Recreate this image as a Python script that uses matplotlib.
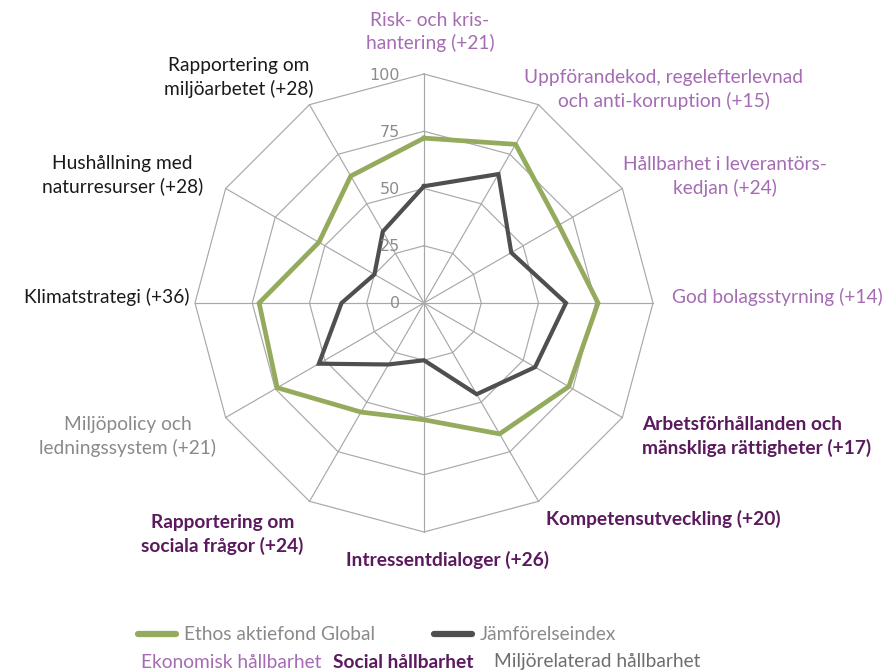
import numpy as np
import matplotlib
matplotlib.use("Agg")
import matplotlib.pyplot as plt
from matplotlib.lines import Line2D

plt.rcParams['font.family'] = ['Lato', 'DejaVu Sans']

# ---------------------------------------------------------------
# data (clockwise from the top)
categories = [
    "Risk- och kris-\nhantering (+21)",
    "Uppförandekod, regelefterlevnad\noch anti-korruption (+15)",
    "Hållbarhet i leverantörs-\nkedjan (+24)",
    "God bolagsstyrning (+14)",
    "Arbetsförhållanden och\nmänskliga rättigheter (+17)",
    "Kompetensutveckling (+20)",
    "Intressentdialoger (+26)",
    "Rapportering om\nsociala frågor (+24)",
    "Miljöpolicy och\nledningssystem (+21)",
    "Klimatstrategi (+36)",
    "Hushållning med\nnaturresurser (+28)",
    "Rapportering om\nmiljöarbetet (+28)",
]
ethos = [72, 80, 68, 76, 73, 66, 51, 55, 74, 72, 53, 64]
index = [51, 65, 44, 62, 56, 46, 25, 31, 53, 36, 25, 36]
series_names = ["Ethos aktiefond Global", "Jämförelseindex"]
ticks = [0, 25, 50, 75, 100]

LIGHT = '#a56cb4'
DARK = '#5b1a5e'
GREEN = '#94ab5e'
GRAY = '#4f4f4f'
GRID = '#a8a8a8'
FS = 13.8

# label styling: colour, bold, offset in pixels, alignment
label_style = [
    (LIGHT, False, (6, 42), 'center'),
    (LIGHT, False, (125, 15), 'center'),
    (LIGHT, False, (103, 12), 'center'),
    (LIGHT, False, (19, 6), 'left'),
    (DARK, True, (20, -19), 'left'),
    (DARK, True, (8, -18), 'left'),
    (DARK, True, (23, -28), 'center'),
    (DARK, True, (-87, -33), 'center'),
    ('#8a8a8a', False, (-98, -19), 'center'),
    ('#1a1a1a', False, (-5, 6), 'right'),
    ('#1a1a1a', False, (-103, 13), 'center'),
    ('#1a1a1a', False, (-71, 27), 'center'),
]

# ---------------------------------------------------------------
W, H = 887, 672
fig = plt.figure(figsize=(W / 100, H / 100), dpi=100)
cx, cy, R = 424, 303, 229
ax = fig.add_axes([(cx - R) / W, (H - cy - R) / H, 2 * R / W, 2 * R / H],
                  projection='polar')
ax.set_theta_zero_location('N')
ax.set_theta_direction(-1)
ax.set_ylim(0, 100)
ax.grid(False)
ax.set_xticks([])
ax.set_yticks([])
ax.spines['polar'].set_visible(False)
ax.patch.set_visible(False)

n = len(categories)
theta = np.arange(n) * 2 * np.pi / n
closed = np.append(theta, theta[0])

# polygon grid
for v in ticks[1:]:
    ax.plot(closed, [v] * (n + 1), color=GRID, lw=0.85, clip_on=False, zorder=1)
for t in theta:
    ax.plot([t, t], [0, 100], color=GRID, lw=0.85, clip_on=False, zorder=1)

# series
ax.plot(closed, ethos + ethos[:1], color=GREEN, lw=3.4, clip_on=False,
        zorder=3, solid_joinstyle='miter')
ax.plot(closed, index + index[:1], color=GRAY, lw=3.0, clip_on=False,
        zorder=3, solid_joinstyle='miter')

# radial tick labels
for v in ticks:
    ax.annotate(str(v), xy=(0, v), xytext=(-24, -1), textcoords='offset pixels',
                ha='right', va='center', fontsize=11.5, color='#8c8c8c',
                family='DejaVu Sans', annotation_clip=False)

# category labels
for t, lab, (col, bold, off, ha) in zip(theta, categories, label_style):
    ax.annotate(lab, xy=(t, 100), xytext=off, textcoords='offset pixels',
                ha=ha, va='center', multialignment=ha, fontsize=FS,
                color=col, fontweight='bold' if bold else 'normal',
                linespacing=1.36, annotation_clip=False)

# legend
handles = [Line2D([], [], color=GREEN, lw=4.5, solid_capstyle='round'),
           Line2D([], [], color=GRAY, lw=4.5, solid_capstyle='round')]
fig.legend(handles, series_names, loc='center left',
           bbox_to_anchor=(138 / W, 1 - 635 / H), ncol=2, frameon=False,
           fontsize=FS, handlelength=2.0, handletextpad=0.42,
           columnspacing=3.05, borderpad=0, borderaxespad=0,
           labelcolor='#8a8a8a')

fig.text(141 / W, 1 - 662 / H, "Ekonomisk hållbarhet", color=LIGHT,
         fontsize=FS, va='center')
fig.text(333 / W, 1 - 662 / H, "Social hållbarhet", color=DARK,
         fontsize=FS, fontweight='bold', va='center')
fig.text(494 / W, 1 - 662 / H, "Miljörelaterad hållbarhet", color='#6e6e6e',
         fontsize=FS, va='center')

fig.savefig("out.png", dpi=100)
